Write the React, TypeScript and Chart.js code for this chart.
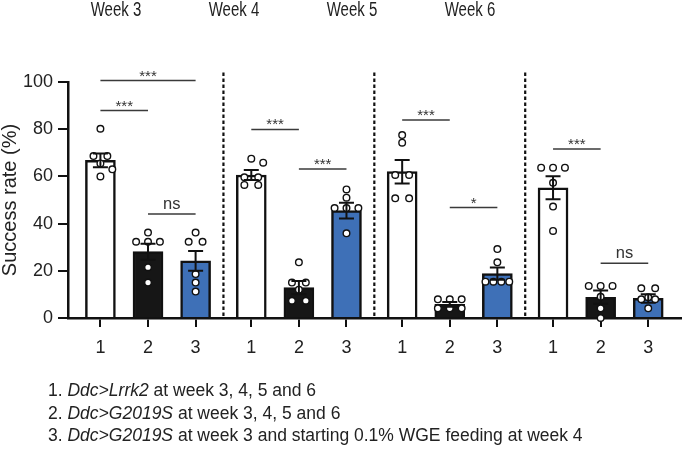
import React, { useEffect, useRef } from 'react';
import { Chart, registerables } from 'chart.js';

Chart.register(...registerables);

// ---------- data ----------
const weekLabels = ['Week 3', 'Week 4', 'Week 5', 'Week 6'];
const groupTickLabels = ['1', '2', '3'];
const barFill = ['#ffffff', '#161616', '#3e70b7'];

// bar means (4 weeks x 3 groups)
const barMeans = [66.8, 28.1, 24.2, 60.6, 12.9, 45.5, 62.0, 5.8, 18.8, 55.2, 8.8, 8.3];
// SEM
const barSems = [2.9, 3.4, 4.2, 2.1, 2.8, 3.3, 5.0, 1.0, 2.6, 4.9, 2.8, 1.8];

// individual points per bar
const week3Points = [
  [80.2, 68.6, 68.6, 65.5, 63.0, 60.0],
  [36.2, 32.3, 32.3, 32.3, 21.5, 15.0],
  [36.2, 32.3, 32.3, 18.6, 15.0, 11.2],
];
const week4Points = [
  [67.5, 65.8, 59.6, 59.6, 56.4, 56.4],
  [23.6, 15.0, 15.0, 12.0, 7.3, 7.3],
  [54.5, 51.0, 46.6, 46.6, 46.6, 35.9],
];
const week5Points = [
  [77.5, 74.3, 60.6, 60.6, 50.7, 50.7],
  [7.9, 7.9, 7.9, 4.1, 4.1, 4.1],
  [29.2, 23.6, 15.4, 15.4, 15.4, 15.4],
];
const week6Points = [
  [63.7, 63.7, 63.7, 57.3, 47.2, 36.9],
  [13.6, 13.6, 13.6, 9.0, 4.1, 0.0],
  [12.6, 12.6, 8.8, 7.9, 7.9, 4.1],
];
const allPoints = [...week3Points, ...week4Points, ...week5Points, ...week6Points];

// significance brackets
const sigWeek = [0, 0, 0, 1, 1, 2, 2, 3, 3];
const sigFrom = [0, 0, 1, 0, 1, 0, 1, 0, 1];
const sigTo = [1, 2, 2, 1, 2, 1, 2, 1, 2];
const sigLevel = [87.9, 100.6, 44.1, 79.9, 63.1, 83.9, 46.8, 71.6, 23.2];
const sigText = ['***', '***', 'ns', '***', '***', '***', '*', '***', 'ns'];

// legend text below chart
const legendNumbers = ['1.', '2.', '3.'];
const legendGenotypes = ['Ddc>Lrrk2', 'Ddc>G2019S', 'Ddc>G2019S'];
const legendDescriptions = [
  ' at week 3, 4, 5 and 6',
  ' at week 3, 4, 5 and 6',
  ' at week 3 and starting 0.1% WGE feeding at week 4',
];

// ---------- layout helpers ----------
const GROUP_STEP = 3.17;
const barPos = (i: number) => Math.floor(i / 3) * GROUP_STEP + (i % 3);
const PX_PER_X = 48;
const PX_PER_Y = 2.36;
const DIAM = 7;
const FONT = '"Liberation Sans", Arial, Helvetica, sans-serif';

function swarm(vals: number[]): number[] {
  const n = vals.length;
  const off: number[] = new Array(n).fill(NaN);
  const idx = vals.map((_, i) => i).sort((a, b) => vals[b] - vals[a]);
  const groups: number[][] = [];
  idx.forEach((i) => {
    const last = groups[groups.length - 1];
    if (last && Math.abs(vals[last[0]] - vals[i]) < 0.5) last.push(i);
    else groups.push([i]);
  });
  groups
    .filter((g) => g.length > 1)
    .forEach((g) => {
      const sp = Math.min(14, 24 / (g.length - 1));
      g.forEach((i, k) => {
        off[i] = (k - (g.length - 1) / 2) * sp;
      });
    });
  groups
    .filter((g) => g.length === 1)
    .forEach(([i]) => {
      const cands = [0, 12, -12];
      for (const c of cands) {
        const ok = off.every(
          (o, j) => isNaN(o) || Math.hypot(o - c, (vals[j] - vals[i]) * PX_PER_Y) >= DIAM
        );
        if (ok) {
          off[i] = c;
          return;
        }
      }
      off[i] = 0;
    });
  return off;
}

const scatterData: { x: number; y: number }[] = [];
allPoints.forEach((vals, i) => {
  const offs = swarm(vals);
  vals.forEach((v, k) => scatterData.push({ x: barPos(i) + offs[k] / PX_PER_X, y: v }));
});

const overlayPlugin = {
  id: 'overlay',
  afterDatasetsDraw(chart: any) {
    const { ctx, scales } = chart;
    const x = scales.x;
    const y = scales.y;
    ctx.save();

    // error bars
    ctx.strokeStyle = '#111';
    ctx.lineWidth = 2;
    barMeans.forEach((m, i) => {
      const px = x.getPixelForValue(barPos(i));
      const top = y.getPixelForValue(m + barSems[i]);
      const bot = y.getPixelForValue(Math.max(0, m - barSems[i]));
      const cap = 7.5;
      ctx.beginPath();
      ctx.moveTo(px, top);
      ctx.lineTo(px, bot);
      ctx.moveTo(px - cap, top);
      ctx.lineTo(px + cap, top);
      ctx.moveTo(px - cap, bot);
      ctx.lineTo(px + cap, bot);
      ctx.stroke();
    });

    // dashed separators
    ctx.setLineDash([3.5, 2.5]);
    ctx.lineWidth = 2.2;
    ctx.strokeStyle = '#111';
    for (let g = 0; g < weekLabels.length - 1; g++) {
      const xv = g * GROUP_STEP + 2 + (GROUP_STEP - 2) / 2;
      const px = x.getPixelForValue(xv);
      ctx.beginPath();
      ctx.moveTo(px, y.getPixelForValue(104));
      ctx.lineTo(px, y.getPixelForValue(0));
      ctx.stroke();
    }
    ctx.setLineDash([]);

    // significance brackets
    sigText.forEach((t, k) => {
      const base = sigWeek[k] * 3;
      const x1 = x.getPixelForValue(barPos(base + sigFrom[k]));
      const x2 = x.getPixelForValue(barPos(base + sigTo[k]));
      const yy = y.getPixelForValue(sigLevel[k]);
      ctx.strokeStyle = '#3a3a3a';
      ctx.lineWidth = 1.5;
      ctx.beginPath();
      ctx.moveTo(x1, yy);
      ctx.lineTo(x2, yy);
      ctx.stroke();
      ctx.fillStyle = '#333';
      ctx.textAlign = 'center';
      ctx.textBaseline = 'alphabetic';
      const cx = (x1 + x2) / 2;
      if (t.includes('*')) {
        ctx.font = `15px ${FONT}`;
        const m = ctx.measureText(t);
        const asc = m.actualBoundingBoxAscent;
        const desc = m.actualBoundingBoxDescent;
        const c = yy - 7;
        ctx.fillText(t, cx, c + (asc - desc) / 2);
      } else {
        ctx.font = `16.5px ${FONT}`;
        ctx.fillText(t, cx, yy - 5);
      }
    });

    // week labels at the top
    ctx.fillStyle = '#222';
    ctx.font = `19.5px ${FONT}`;
    ctx.textAlign = 'center';
    ctx.textBaseline = 'alphabetic';
    weekLabels.forEach((w, i) => {
      ctx.save();
      ctx.translate(116 + i * 118, 16);
      ctx.scale(0.77, 1);
      ctx.fillText(w, 0, 0);
      ctx.restore();
    });

    ctx.restore();
  },
};

export default function App() {
  const canvasRef = useRef<HTMLCanvasElement | null>(null);

  useEffect(() => {
    const canvas = canvasRef.current;
    if (!canvas) return;
    const chart = new Chart(canvas, {
      type: 'bar',
      data: {
        datasets: [
          {
            type: 'bar',
            data: barMeans.map((m, i) => ({ x: barPos(i), y: m })) as any,
            backgroundColor: barMeans.map((_, i) => barFill[i % 3]),
            borderColor: '#111',
            borderWidth: 2.5,
            barThickness: 30,
            borderSkipped: 'start',
            order: 2,
          } as any,
          {
            type: 'scatter',
            data: scatterData as any,
            pointRadius: 3.3,
            pointBorderWidth: 1.4,
            pointBackgroundColor: '#ffffff',
            pointBorderColor: '#111',
            showLine: false,
            clip: false,
            order: 1,
          } as any,
        ],
      },
      options: {
        responsive: false,
        animation: false,
        devicePixelRatio: 1,
        events: [],
        layout: { padding: { top: 82, left: 0, right: 0, bottom: 0 } },
        plugins: {
          legend: { display: false },
          tooltip: { enabled: false },
        },
        scales: {
          x: {
            type: 'linear',
            min: -0.681,
            max: 12.19,
            offset: false,
            grid: {
              display: true,
              drawOnChartArea: false,
              drawTicks: true,
              tickLength: 9,
              color: '#111',
              lineWidth: 2,
              offset: false,
            },
            border: { display: true, color: '#111', width: 2.5 },
            ticks: {
              autoSkip: false,
              maxRotation: 0,
              padding: 10,
              color: '#222',
              font: { family: FONT, size: 18 },
              callback: (_v: any, i: number) => groupTickLabels[i % 3],
            },
            afterBuildTicks: (s: any) => {
              s.ticks = barMeans.map((_, i) => ({ value: barPos(i) }));
            },
            afterFit: (s: any) => {
              s.height = 131;
            },
          } as any,
          y: {
            type: 'linear',
            min: 0,
            max: 100,
            grid: {
              display: true,
              drawOnChartArea: false,
              drawTicks: true,
              tickLength: 10,
              color: '#111',
              lineWidth: 2,
            },
            border: { display: true, color: '#111', width: 2.5 },
            ticks: {
              stepSize: 20,
              padding: 5,
              color: '#222',
              font: { family: FONT, size: 18 },
            },
            title: {
              display: true,
              text: 'Success rate (%)',
              color: '#222',
              font: { family: FONT, size: 20, lineHeight: 1 },
              padding: { top: 0, bottom: 0 },
            },
            afterFit: (s: any) => {
              s.width = 68;
            },
          } as any,
        },
      },
      plugins: [overlayPlugin],
    });
    return () => chart.destroy();
  }, []);

  return (
    <div style={{ position: 'absolute', left: 0, top: 0, width: 686, height: 449, background: '#fff' }}>
      <canvas ref={canvasRef} width={686} height={449} style={{ display: 'block' }} />
      <div
        style={{
          position: 'absolute',
          left: 48,
          top: 379,
          fontFamily: FONT,
          fontSize: 17.5,
          lineHeight: '22.5px',
          color: '#222',
          whiteSpace: 'nowrap',
        }}
      >
        {legendNumbers.map((n, i) => (
          <div key={i}>
            {n} <i>{legendGenotypes[i]}</i>
            {legendDescriptions[i]}
          </div>
        ))}
      </div>
    </div>
  );
}
